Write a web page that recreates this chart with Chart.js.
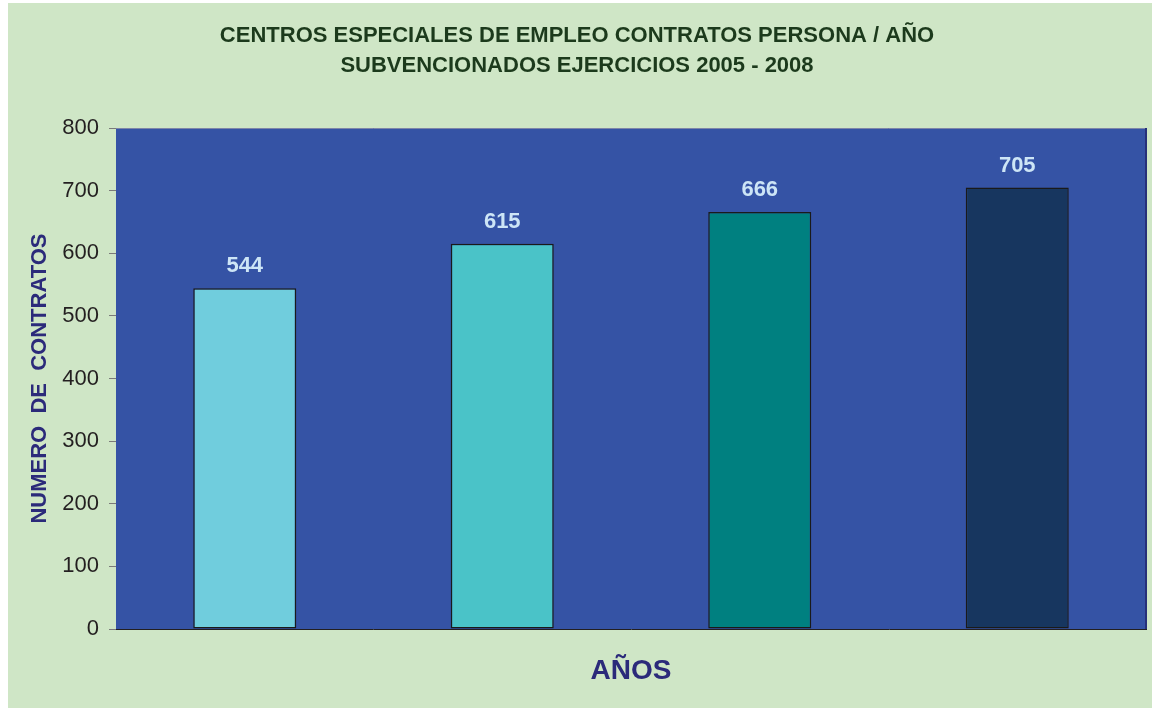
<!DOCTYPE html>
<html>
<head>
<meta charset="utf-8">
<script src="https://cdn.jsdelivr.net/npm/chart.js@4/dist/chart.umd.min.js"></script>
<style>
  html, body { margin: 0; padding: 0; background: #ffffff; }
  #wrap { position: absolute; left: 8px; top: 3px; width: 1144px; height: 705px; background: #cfe6c6; }
  canvas { display: block; }
</style>
</head>
<body>
<div id="wrap"><canvas id="c" width="1144" height="705"></canvas></div>
<script>
const categories = ['2005', '2006', '2007', '2008'];
const contratos = [544, 615, 666, 705];
const barColors = ['#70cddd', '#4ac3c8', '#008080', '#17365f'];
const titleLines = ['CENTROS ESPECIALES DE EMPLEO CONTRATOS PERSONA / AÑO', 'SUBVENCIONADOS EJERCICIOS 2005 - 2008'];
const yTitle = 'NUMERO  DE  CONTRATOS';
const xTitle = 'AÑOS';
const yMin = 0, yMax = 800, yStep = 100;

const FONT = '"Liberation Sans", Arial, Helvetica, sans-serif';

const plotBg = {
  id: 'plotBg',
  beforeDatasetsDraw(chart) {
    const {ctx, chartArea: a} = chart;
    ctx.save();
    ctx.fillStyle = '#3553a5';
    ctx.fillRect(a.left, a.top, a.right - a.left, a.bottom - a.top);
    ctx.lineWidth = 1;
    ctx.strokeStyle = '#7d86a8';
    ctx.beginPath();
    ctx.moveTo(a.left, a.top + 0.5);
    ctx.lineTo(a.right, a.top + 0.5);
    ctx.stroke();
    ctx.strokeStyle = '#26307a';
    ctx.lineWidth = 2;
    ctx.beginPath();
    ctx.moveTo(a.right, a.top);
    ctx.lineTo(a.right, a.bottom);
    ctx.stroke();
    ctx.restore();
  }
};

const valueLabels = {
  id: 'valueLabels',
  afterDatasetsDraw(chart) {
    const {ctx} = chart;
    const meta = chart.getDatasetMeta(0);
    const ds = chart.data.datasets[0];
    ctx.save();
    ctx.font = 'bold 22px ' + FONT;
    ctx.fillStyle = '#cde5f6';
    ctx.textAlign = 'center';
    ctx.textBaseline = 'middle';
    meta.data.forEach((el, i) => {
      ctx.fillText(String(ds.data[i]), el.x, el.y - 22);
    });
    ctx.restore();
  }
};

new Chart(document.getElementById('c'), {
  type: 'bar',
  data: {
    labels: categories,
    datasets: [{
      data: contratos,
      backgroundColor: barColors,
      borderColor: '#1a1a1a',
      borderWidth: 1.5,
      borderSkipped: false,
      barPercentage: 0.4,
      categoryPercentage: 1.0
    }]
  },
  options: {
    responsive: false,
    animation: false,
    devicePixelRatio: 1,
    layout: { padding: { left: 0, right: 6, top: 0, bottom: 0 } },
    plugins: {
      legend: { display: false },
      tooltip: { enabled: false },
      title: {
        display: true,
        text: titleLines,
        color: '#1c3a1c',
        font: { family: FONT, size: 22, weight: 'bold', lineHeight: 1.364 },
        padding: { top: 18, bottom: 47 }
      }
    },
    scales: {
      x: {
        ticks: { display: false },
        grid: { display: false },
        border: { display: true, color: '#231f20', width: 1 },
        title: {
          display: true,
          text: xTitle,
          color: '#2b2a7a',
          font: { family: FONT, size: 28, weight: 'bold', lineHeight: 1.2 },
          padding: { top: 0, bottom: 20 }
        },
        afterFit(scale) { scale.height = 79; }
      },
      y: {
        min: yMin,
        max: yMax,
        ticks: {
          stepSize: yStep,
          color: '#231f20',
          padding: 10,
          font: { family: FONT, size: 22 }
        },
        grid: {
          drawOnChartArea: false,
          drawTicks: true,
          tickLength: 7,
          color: '#7a7a7a'
        },
        border: { display: true, color: '#231f20', width: 1 },
        title: {
          display: true,
          text: yTitle,
          color: '#2b2a7a',
          font: { family: FONT, size: 22, weight: 'bold', lineHeight: 1.2 },
          padding: { top: 19, bottom: 0 }
        },
        afterFit(scale) { scale.width = 108; }
      }
    }
  },
  plugins: [plotBg, valueLabels]
});
</script>
</body>
</html>
